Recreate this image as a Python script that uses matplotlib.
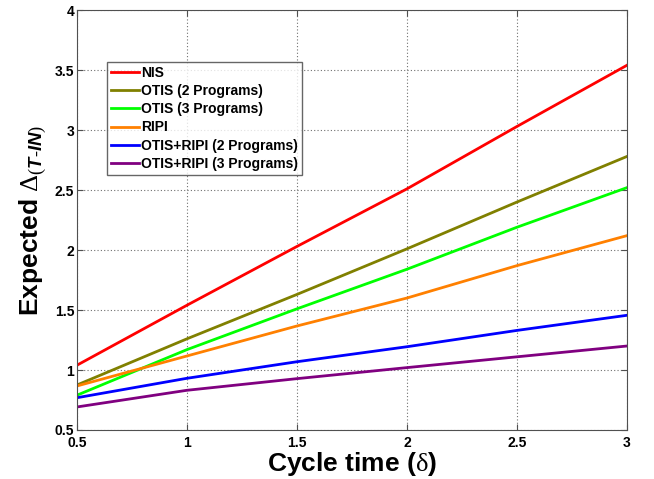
import matplotlib
matplotlib.use("Agg")
import matplotlib.pyplot as plt

plt.rcParams['font.family'] = ['Liberation Sans', 'DejaVu Sans']
plt.rcParams['mathtext.fontset'] = 'custom'
plt.rcParams['mathtext.rm'] = 'Liberation Serif'
plt.rcParams['mathtext.it'] = 'Liberation Sans:bold:italic'
plt.rcParams['mathtext.bf'] = 'Liberation Sans:bold'

cycle_time = [0.5, 1.0, 1.5, 2.0, 2.5, 3.0]
nis = [1.04, 1.54, 2.03, 2.51, 3.03, 3.54]
otis2 = [0.875, 1.26, 1.63, 2.01, 2.40, 2.78]
otis3 = [0.79, 1.17, 1.51, 1.84, 2.19, 2.52]
ripi = [0.867, 1.117, 1.367, 1.60, 1.87, 2.12]
otis_ripi2 = [0.769, 0.931, 1.069, 1.194, 1.33, 1.456]
otis_ripi3 = [0.692, 0.831, 0.928, 1.02, 1.11, 1.20]

series = [
    ("NIS", nis, "#ff0000"),
    ("OTIS (2 Programs)", otis2, "#808000"),
    ("OTIS (3 Programs)", otis3, "#00ff00"),
    ("RIPI", ripi, "#ff8000"),
    ("OTIS+RIPI (2 Programs)", otis_ripi2, "#0000ff"),
    ("OTIS+RIPI (3 Programs)", otis_ripi3, "#800080"),
]

xticks = [0.5, 1, 1.5, 2, 2.5, 3]
xtick_labels = ["0.5", "1", "1.5", "2", "2.5", "3"]
yticks = [0.5, 1, 1.5, 2, 2.5, 3, 3.5, 4]
ytick_labels = ["0.5", "1", "1.5", "2", "2.5", "3", "3.5", "4"]

fig = plt.figure(figsize=(6.54, 4.79), dpi=100)
ax = fig.add_axes([0.1177, 0.1023, 0.8410, 0.8767])

for name, vals, col in series:
    ax.plot(cycle_time, vals, color=col, lw=2, label=name)

ax.set_xlim(0.5, 3)
ax.set_ylim(0.5, 4)
ax.set_xticks(xticks)
ax.set_xticklabels(xtick_labels, fontweight='bold', fontsize=10)
ax.set_yticks(yticks)
ax.set_yticklabels(ytick_labels, fontweight='bold', fontsize=10)
ax.tick_params(direction='in', length=4, color='#505050', pad=2)
ax.tick_params(axis='x', pad=4)
ax.tick_params(top=True, right=True)
ax.grid(True, linestyle=(0, (1, 2)), color='#707070', lw=0.8)
for s in ax.spines.values():
    s.set_color('#505050')

ax.set_xlabel(r'Cycle time ($\mathrm{\delta}$)', fontsize=19, fontweight='bold', labelpad=0)
ax.set_ylabel(r'Expected $\mathrm{\Delta}_{\mathit{(T\text{-}IN)}}$', fontsize=19, fontweight='bold', labelpad=4)

leg = ax.legend(loc='upper left', bbox_to_anchor=(0.054, 0.877),
                prop={'weight': 'bold', 'size': 10}, frameon=True, fancybox=False,
                edgecolor='#404040', handlelength=2.0, handletextpad=0.15,
                borderpad=0.3, labelspacing=0.3, borderaxespad=0)
leg.get_frame().set_linewidth(1.0)

fig.savefig("out.png", dpi=100)
